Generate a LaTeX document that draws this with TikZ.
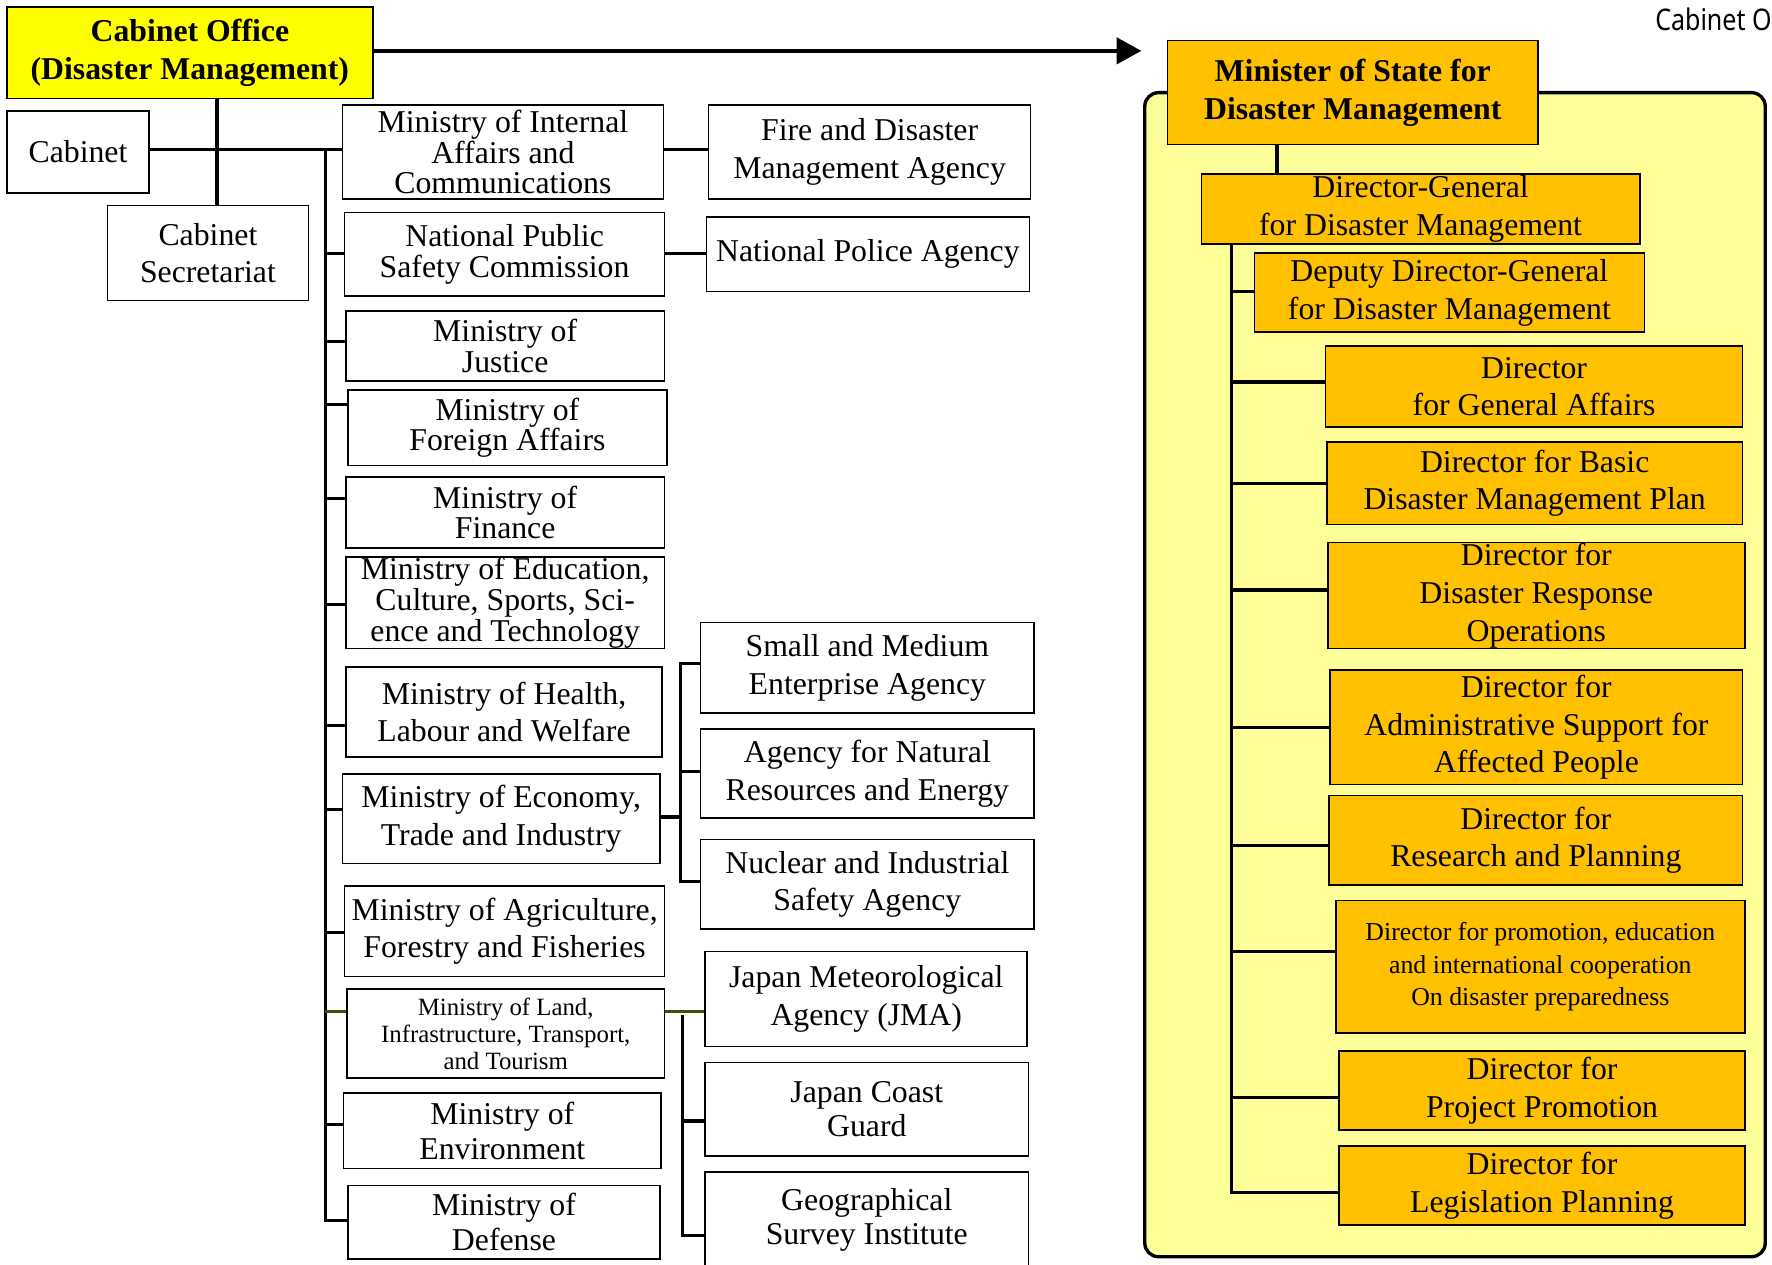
\documentclass[tikz,border=0pt]{standalone}
\usepackage{fontspec}
\setmainfont{Liberation Serif}
\newfontfamily\headsans[FakeStretch=0.84]{Noto Sans}
\usepackage{tikz}
\usetikzlibrary{arrows.meta}
\definecolor{cabyellow}{HTML}{FFFF00}
\definecolor{dirorange}{HTML}{FFC000}
\definecolor{panelyellow}{HTML}{FFFF99}
\definecolor{olivedark}{HTML}{4A4A0A}

\begin{document}
\begin{tikzpicture}[x=0.02cm, y=-0.02cm,
      cell/.style n args={4}{at={({(#1+#3)/2},{(#2+#4)/2})},
                  minimum width={(#3-#1)*0.02cm}, minimum height={(#4-#2)*0.02cm}},
      box/.style={draw, line width=0.8pt, fill=white, inner sep=0pt,
                  align=center, font=\fontsize{16}{19}\selectfont},
      tight/.style={box, font=\fontsize{16}{15.5}\selectfont},
      mid/.style={box, font=\fontsize{16}{17.5}\selectfont},
      small/.style={box, font=\fontsize{12.5}{13.6}\selectfont},
      head/.style={box, fill=cabyellow, font=\bfseries\fontsize{16}{19}\selectfont},
      dir/.style={box, fill=dirorange},
      dirsmall/.style={dir, font=\fontsize{13}{16.5}\selectfont},
      panel/.style={draw, line width=1.7pt, fill=panelyellow,
                    rounded corners=0.24cm, inner sep=0pt},
      bus/.style={line width=1.6pt},
      a/.style={-{Triangle[length=0.44cm, width=0.46cm]}, line width=2.3pt}]
    \useasboundingbox (0,0) rectangle (1568,1119);
    \clip (0,0) rectangle (1568,1119);
    \node[font=\headsans\fontsize{15}{17}\selectfont, anchor=north east,
          inner sep=0pt] (hdr) at (1568,7) {Cabinet O};

    % left: cabinet and ministries
    \node[head, cell={6}{6}{330}{87}] (cao) {Cabinet Office\\(Disaster Management)};
    \node[box, cell={6}{98}{132}{171}] (cab) {Cabinet};
    \node[box, cell={95}{182}{273}{266}] (sec) {Cabinet\\Secretariat};
    \node[tight, cell={303}{93}{587}{176}] (miac) {Ministry of Internal\\Affairs and\\Communications};
    \node[tight, cell={305}{188}{588}{262}] (npsc) {National Public\\Safety Commission};
    \node[tight, cell={306}{275}{588}{337}] (moj) {Ministry of\\Justice};
    \node[tight, cell={308}{345}{590}{412}] (mofa) {Ministry of\\Foreign Affairs};
    \node[tight, cell={306}{422}{588}{485}] (mof) {Ministry of\\Finance};
    \node[tight, cell={306}{493}{588}{574}] (mext) {Ministry of Education,\\Culture, Sports, Sci-\\ence and Technology};
    \node[box, cell={306}{590}{586}{670}] (mhlw) {Ministry of Health,\\Labour and Welfare};
    \node[box, cell={303}{685}{584}{764}] (meti) {Ministry of Economy,\\Trade and Industry};
    \node[box, cell={305}{784}{588}{864}] (maff) {Ministry of Agriculture,\\Forestry and Fisheries};
    \node[small, cell={307}{875}{588}{954}] (mlit) {Ministry of Land,\\Infrastructure, Transport,\\and Tourism};
    \node[mid, cell={304}{967}{585}{1034}] (moe) {Ministry of\\Environment};
    \node[mid, cell={308}{1049}{584}{1114}] (mod) {Ministry of\\Defense};

    % agencies
    \node[box, cell={627}{93}{912}{176}] (fdma) {Fire and Disaster\\Management Agency};
    \node[box, cell={625}{192}{911}{258}] (npa) {National Police Agency};
    \node[box, cell={620}{551}{915}{631}] (sme) {Small and Medium\\Enterprise Agency};
    \node[box, cell={620}{645}{915}{724}] (anre) {Agency for Natural\\Resources and Energy};
    \node[box, cell={620}{743}{915}{822}] (nisa) {Nuclear and Industrial\\Safety Agency};
    \node[box, cell={624}{842}{909}{926}] (jma) {Japan Meteorological\\Agency (JMA)};
    \node[mid, cell={624}{940}{910}{1023}] (jcg) {Japan Coast\\Guard};
    \node[mid, cell={624}{1037}{910}{1122}] (gsi) {Geographical\\Survey Institute};

    % right: minister's office
    \node[panel, cell={1013}{82}{1562}{1112}] (pnl) {};
    \node[head, fill=dirorange, cell={1033}{36}{1361}{128}] (mos) {Minister of State for\\Disaster Management};
    \node[dir, cell={1063}{154}{1451}{216}] (dg) {Director-General\\for Disaster Management};
    \node[dir, cell={1110}{224}{1455}{294}] (ddg) {Deputy Director-General\\for Disaster Management};
    \node[dir, cell={1173}{306}{1542}{378}] (dga) {Director\\for General Affairs};
    \node[dir, cell={1174}{391}{1542}{464}] (dbp) {Director for Basic\\Disaster Management Plan};
    \node[dir, cell={1175}{480}{1544}{574}] (dro) {Director for\\Disaster Response\\Operations};
    \node[dir, cell={1177}{593}{1542}{694}] (das) {Director for\\Administrative Support for\\Affected People};
    \node[dir, cell={1176}{704}{1542}{783}] (drp) {Director for\\Research and Planning};
    \node[dirsmall, cell={1182}{797}{1544}{914}] (dpe) {Director for promotion, education\\and international cooperation\\On disaster preparedness};
    \node[dir, cell={1185}{930}{1544}{1000}] (dpp) {Director for\\Project Promotion};
    \node[dir, cell={1185}{1014}{1544}{1084}] (dlp) {Director for\\Legislation Planning};

    % connectors
    \coordinate (tip) at (1010,45);
    \draw[a] (cao.east |- tip) -- (tip);
    \coordinate (jx) at (192,132);
    \draw[bus] (cao.south -| jx) -- (sec.north -| jx);
    \draw[bus] (cab.east |- jx) -- (miac.west |- jx);
    \coordinate (mbus) at (288,132);
    \draw[bus] (mbus) -- (mbus |- 0,1080) -- (mod.west |- 0,1080);
    \foreach \n/\y in {npsc/224, moj/302, mofa/358, mof/441, mext/535,
                       mhlw/642, meti/716, maff/825, moe/995}
      \draw[bus] (mbus |- 0,\y) -- (\n.west |- 0,\y);
    \draw[bus, olivedark] (mbus |- 0,895) -- (mlit.west |- 0,895);
    \draw[bus] (miac.east |- 0,132) -- (fdma.west |- 0,132);
    \draw[bus] (npsc.east |- 0,224) -- (npa.west |- 0,224);
    \coordinate (ebus) at (602,723);
    \draw[bus] (meti.east |- ebus) -- (ebus);
    \draw[bus] (sme.west |- 0,587) -- (ebus |- 0,587) -- (ebus |- 0,780) -- (nisa.west |- 0,780);
    \draw[bus] (ebus |- 0,683) -- (anre.west |- 0,683);
    \draw[bus, olivedark] (mlit.east |- 0,895) -- (jma.west |- 0,895);
    \coordinate (lbus) at (604,898);
    \draw[bus] (lbus) -- (lbus |- 0,1093) -- (gsi.west |- 0,1093);
    \draw[bus] (lbus |- 0,992) -- (jcg.west |- 0,992);
    \coordinate (mx) at (1130,0);
    \draw[bus] (mos.south -| mx) -- (dg.north -| mx);
    \coordinate (dbus) at (1090,216);
    \draw[bus] (dg.south -| dbus) -- (dbus |- 0,1055) -- (dlp.west |- 0,1055);
    \foreach \n/\y in {ddg/258, dga/338, dbp/428, dro/522, das/644,
                       drp/748, dpe/842, dpp/971}
      \draw[bus] (dbus |- 0,\y) -- (\n.west |- 0,\y);
\end{tikzpicture}
\end{document}
